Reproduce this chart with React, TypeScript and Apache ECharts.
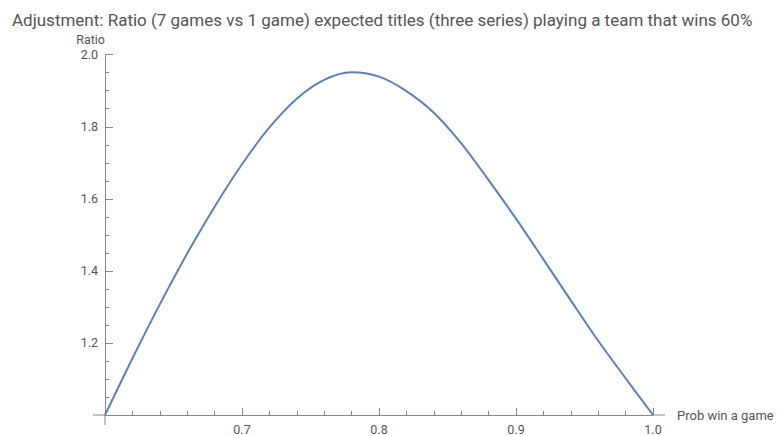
import React, { useEffect, useRef } from "react";
import * as echarts from "echarts";

const probWin = [0.6, 0.62, 0.64, 0.66, 0.68, 0.7, 0.72, 0.74, 0.76, 0.78, 0.8, 0.82, 0.84, 0.86, 0.88, 0.9, 0.92, 0.94, 0.96, 0.98, 1.0];
const ratio = [1.0, 1.157, 1.307, 1.448, 1.578, 1.696, 1.798, 1.878, 1.930, 1.951, 1.939, 1.899, 1.839, 1.754, 1.652, 1.545, 1.432, 1.318, 1.206, 1.102, 1.0];
const xTickLabels = ["0.7", "0.8", "0.9", "1.0"];
const yTickLabels = ["1.2", "1.4", "1.6", "1.8", "2.0"];

const titleText = "Adjustment: Ratio (7 games vs 1 game) expected titles (three series) playing a team that wins 60%";
const AXIS = "#888888";
const LABEL = "#555555";
const FONT = "Roboto, 'Liberation Sans', sans-serif";

export default function App() {
  const ref = useRef<HTMLDivElement>(null);
  useEffect(() => {
    document.body.style.margin = "0";
    const chart = echarts.init(ref.current!, null, { renderer: "svg" });
    const data = probWin.map((p, i) => [p, ratio[i]]);
    chart.setOption({
      animation: false,
      title: {
        text: titleText,
        left: 7,
        top: 6,
        textStyle: { fontFamily: FONT, fontSize: 17, fontWeight: "normal", color: LABEL },
      },
      grid: { left: 105, right: 130, top: 54.7, bottom: 19.3, containLabel: false },
      xAxis: {
        type: "value",
        min: 0.6,
        max: 1.0,
        interval: 0.1,
        name: "Prob win a game",
        nameLocation: "end",
        nameGap: 24,
        nameTextStyle: { fontFamily: FONT, fontSize: 13, color: LABEL, verticalAlign: "middle" },
        axisLine: { show: true, lineStyle: { color: AXIS, width: 1 } },
        axisTick: { show: true, inside: true, length: 7, lineStyle: { color: AXIS } },
        minorTick: { show: true, splitNumber: 5, length: 4, lineStyle: { color: AXIS } },
        splitLine: { show: false },
        axisLabel: {
          fontFamily: FONT,
          fontSize: 12.5,
          color: LABEL,
          margin: 8,
          formatter: (v: number) => {
            const s = v.toFixed(1);
            return xTickLabels.includes(s) ? s : "";
          },
        },
      },
      yAxis: {
        type: "value",
        min: 1.0,
        max: 2.0,
        interval: 0.2,
        name: "Ratio",
        nameLocation: "end",
        nameGap: 9,
        nameTextStyle: { fontFamily: FONT, fontSize: 12.5, color: LABEL, align: "right" },
        axisLine: { show: true, lineStyle: { color: AXIS, width: 1 } },
        axisTick: { show: true, inside: true, length: 8, lineStyle: { color: AXIS } },
        minorTick: { show: true, splitNumber: 4, length: 4, lineStyle: { color: AXIS } },
        splitLine: { show: false },
        axisLabel: {
          fontFamily: FONT,
          fontSize: 12.5,
          color: LABEL,
          margin: 7,
          formatter: (v: number) => {
            const s = v.toFixed(1);
            return yTickLabels.includes(s) ? s : "";
          },
        },
      },
      series: [
        {
          type: "line",
          data,
          smooth: 0.33,
          showSymbol: false,
          lineStyle: { color: "#5E81B5", width: 2 },
          itemStyle: { color: "#5E81B5" },
        },
      ],
    });
    const o = chart.convertToPixel({ gridIndex: 0 }, [0.6, 1.0]) as number[];
    const e = chart.convertToPixel({ gridIndex: 0 }, [1.0, 2.0]) as number[];
    chart.setOption({
      graphic: [
        { type: "line", shape: { x1: o[0] - 12, y1: o[1], x2: o[0], y2: o[1] }, style: { stroke: AXIS, lineWidth: 1 }, silent: true },
        { type: "line", shape: { x1: e[0], y1: o[1], x2: e[0] + 12, y2: o[1] }, style: { stroke: AXIS, lineWidth: 1 }, silent: true },
        { type: "line", shape: { x1: o[0], y1: o[1], x2: o[0], y2: o[1] + 10 }, style: { stroke: AXIS, lineWidth: 1 }, silent: true },
      ],
    });
    return () => chart.dispose();
  }, []);
  return <div ref={ref} style={{ width: 783, height: 436 }} />;
}
